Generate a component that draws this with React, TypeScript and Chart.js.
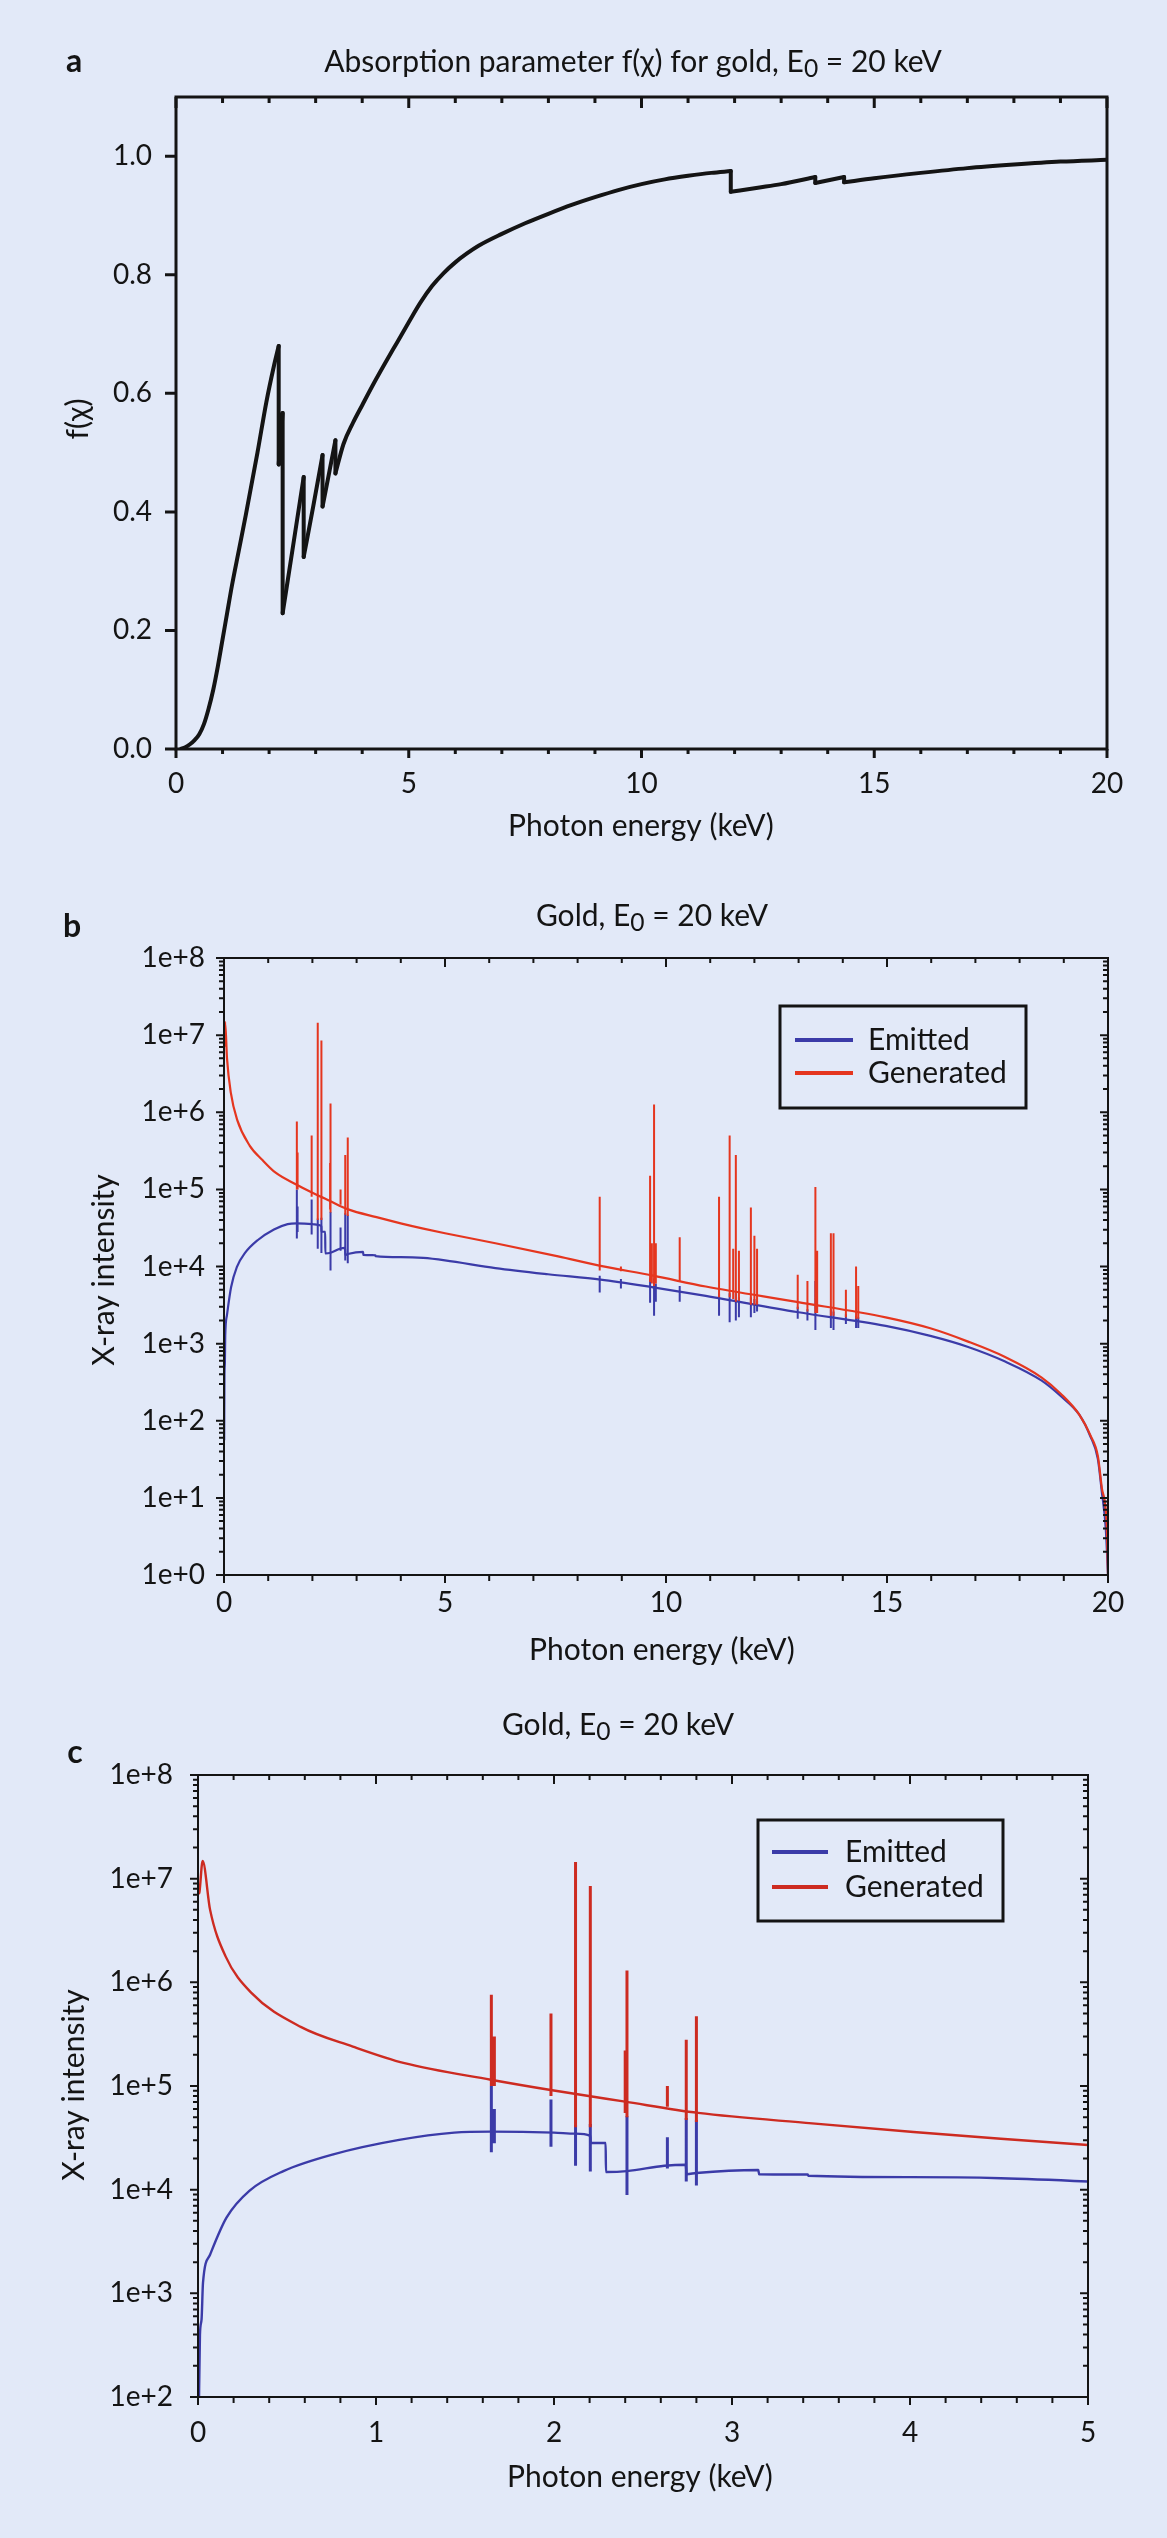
import React, { useEffect, useRef } from "react";
import { Chart, registerables } from "chart.js";

Chart.register(...registerables);

const PAGE_W = 1167;
const PAGE_H = 2538;
const BG = "#e2e9f8";
const INK = "#141414";
const FONT = "Lato, 'Open Sans', 'DejaVu Sans', sans-serif";
const BLUE = "#3b3ba8";
const RED_B = "#e5361f";
const RED_C = "#cd2b21";

// ---------- Panel a: absorption parameter f(chi) ----------
const absEnergy = [0.1, 0.2, 0.3, 0.4, 0.5, 0.6, 0.7, 0.8, 0.9, 1.0, 1.1, 1.2, 1.35, 1.5, 1.75, 1.94, 2.1, 2.206, 2.206, 2.291, 2.291, 2.5, 2.743, 2.743, 2.95, 3.148, 3.148, 3.3, 3.425, 3.425, 3.6, 3.8, 4.0, 4.25, 4.5, 4.75, 5.0, 5.25, 5.5, 5.75, 6.0, 6.25, 6.5, 7.0, 7.5, 8.0, 8.5, 9.0, 9.5, 10.0, 10.5, 11.0, 11.5, 11.918, 11.918, 12.5, 13.0, 13.733, 13.733, 14.353, 14.353, 15, 16, 17, 18, 19, 20];
const absF = [0, 0.003, 0.008, 0.015, 0.025, 0.042, 0.068, 0.1, 0.14, 0.185, 0.23, 0.275, 0.335, 0.395, 0.5, 0.585, 0.645, 0.68, 0.48, 0.567, 0.229, 0.335, 0.459, 0.324, 0.41, 0.496, 0.409, 0.47, 0.521, 0.465, 0.515, 0.55, 0.58, 0.617, 0.652, 0.686, 0.72, 0.753, 0.781, 0.803, 0.821, 0.836, 0.849, 0.869, 0.887, 0.903, 0.918, 0.931, 0.943, 0.953, 0.961, 0.967, 0.972, 0.975, 0.94, 0.947, 0.953, 0.965, 0.955, 0.965, 0.956, 0.963, 0.972, 0.98, 0.986, 0.991, 0.994];
const absXTicks = [0, 5, 10, 15, 20];
const absYTicks = [0, 0.2, 0.4, 0.6, 0.8, 1.0];

// ---------- Panels b, c: gold spectrum, E0 = 20 keV ----------
const emittedEnergy = [0.004, 0.011, 0.02, 0.028, 0.067, 0.16, 0.29, 0.48, 0.76, 1.13, 1.44, 1.645, 2.0, 2.12, 2.204, 2.206, 2.29, 2.292, 2.41, 2.62, 2.74, 2.745, 2.8, 3.148, 3.152, 3.425, 3.43, 4.0, 4.51, 5.0, 6.14, 7.33, 8.52, 9.71, 10.9, 12.96, 14.97, 15.98, 16.82, 17.66, 18.5, 18.93, 19.35, 19.6, 19.77, 19.86, 19.95, 20];
const emittedIntensity = [56, 400, 560, 1260, 2340, 5370, 9800, 15100, 21900, 30200, 35500, 36300, 35500, 34700, 33100, 28200, 28200, 14800, 15100, 17000, 17400, 14100, 14500, 15500, 14100, 14000, 13600, 13200, 12900, 12000, 9550, 7940, 6760, 5370, 4170, 2570, 1700, 1260, 912, 590, 331, 209, 120, 63, 32, 12, 4, 1];

const generatedEnergy = [0.003, 0.008, 0.026, 0.068, 0.155, 0.3, 0.58, 0.87, 1.16, 1.645, 1.99, 2.39, 2.81, 3.45, 4.02, 4.51, 5.0, 6.14, 7.56, 8.52, 9.71, 10.9, 12.96, 14.97, 15.98, 16.82, 17.66, 18.5, 18.93, 19.35, 19.6, 19.77, 19.86, 19.97, 20];
const generatedIntensity = [7.1e6, 7.4e6, 1.48e7, 5.0e6, 1.78e6, 7.9e5, 3.7e5, 2.4e5, 1.66e5, 1.15e5, 9.1e4, 7.1e4, 5.5e4, 4.36e4, 3.6e4, 3.1e4, 2.7e4, 2.0e4, 1.35e4, 1.02e4, 7.6e3, 5.5e3, 3.47e3, 2.19e3, 1.58e3, 1.07e3, 676, 363, 224, 120, 65, 35, 13.5, 4.5, 1];

// characteristic lines (keV) and their extents
const lineEnergy = [1.648, 1.665, 1.983, 2.121, 2.204, 2.4, 2.41, 2.637, 2.743, 2.8, 8.5, 8.98, 9.64, 9.68, 9.73, 9.77, 10.31, 11.2, 11.44, 11.52, 11.58, 11.65, 11.92, 12.0, 12.06, 12.98, 13.2, 13.38, 13.42, 13.73, 13.79, 14.07, 14.3, 14.35];
const generatedPeak = [7.6e5, 3.0e5, 5.0e5, 1.45e7, 8.5e6, 2.2e5, 1.3e6, 1.0e5, 2.8e5, 4.7e5, 8e4, 1.0e4, 1.5e5, 2.0e4, 1.26e6, 2.0e4, 2.4e4, 8e4, 5e5, 1.7e4, 2.8e5, 1.6e4, 5.8e4, 2.5e4, 1.7e4, 7.8e3, 6.5e3, 1.07e5, 1.6e4, 2.7e4, 2.7e4, 5e3, 1.0e4, 5.6e3];
const generatedBase = [1.0e5, 1.0e5, 8e4, 4e4, 4e4, 5.5e4, 5e4, 6.3e4, 4.7e4, 4.5e4, 8.9e3, 8.7e3, 6.3e3, 6e3, 5.6e3, 6e3, 6.3e3, 4e3, 4e3, 3.8e3, 3.5e3, 3.6e3, 3.2e3, 3.2e3, 3.2e3, 2.8e3, 2.6e3, 2.5e3, 2.5e3, 2.3e3, 2.3e3, 2.2e3, 2.1e3, 2.1e3];
const emittedPeak = [1.0e5, 6e4, 7.4e4, 4.2e4, 4.3e4, null, 5.1e4, 3.2e4, 4.9e4, 4.7e4, 7.6e3, 6.9e3, 7e3, null, 7e3, 6e3, 5.6e3, 4.5e3, 4.5e3, null, 4.5e3, 4e3, 4e3, 3.8e3, 3.6e3, 3e3, 2.8e3, 6.5e3, null, 2.8e3, 2.6e3, 2.4e3, 2.3e3, 2.2e3];
const emittedDip = [2.3e4, 2.8e4, 2.6e4, 1.7e4, 1.5e4, null, 8.9e3, 1.6e4, 1.2e4, 1.1e4, 4.6e3, 5.2e3, 3.4e3, null, 2.3e3, 3.5e3, 3.5e3, 2.3e3, 1.9e3, null, 2.0e3, 2.2e3, 2.2e3, 2.5e3, 2.6e3, 2.1e3, 2.0e3, 1.5e3, null, 1.6e3, 1.5e3, 1.8e3, 1.6e3, 1.6e3];

const specBXTicks = [0, 5, 10, 15, 20];
const specBYTicks = [1, 1e1, 1e2, 1e3, 1e4, 1e5, 1e6, 1e7, 1e8];
const specCXTicks = [0, 1, 2, 3, 4, 5];
const specCYTicks = [1e2, 1e3, 1e4, 1e5, 1e6, 1e7, 1e8];

const legendLabels = ["Emitted", "Generated"];

// ---------- helpers ----------
type Area = { left: number; right: number; top: number; bottom: number };
type Tick = { v: number; major: boolean };
type Pt = { x: number; y: number | null };

function linearTicks(min: number, max: number, step: number, majorEvery: number): Tick[] {
  const out: Tick[] = [];
  const n = Math.round((max - min) / step);
  for (let i = 0; i <= n; i++) {
    const v = min + i * step;
    const r = v / majorEvery;
    out.push({ v, major: Math.abs(r - Math.round(r)) < 1e-6 });
  }
  return out;
}
function logTicks(minExp: number, maxExp: number): Tick[] {
  const out: Tick[] = [];
  for (let e = minExp; e <= maxExp; e++) {
    for (let k = 1; k <= 9; k++) {
      if (e === maxExp && k > 1) break;
      out.push({ v: k * Math.pow(10, e), major: k === 1 });
    }
  }
  return out;
}
function setFont(ctx: CanvasRenderingContext2D, size: number, weight = "normal") {
  ctx.font = `${weight} ${size}px ${FONT}`;
}
function drawText(ctx: CanvasRenderingContext2D, text: string, x: number, y: number, size: number, weight = "normal", align: CanvasTextAlign = "center") {
  setFont(ctx, size, weight);
  ctx.fillStyle = INK;
  ctx.textAlign = align;
  ctx.textBaseline = "middle";
  ctx.fillText(text, x, y);
}
function drawSubTitle(ctx: CanvasRenderingContext2D, pre: string, sub: string, post: string, cx: number, cy: number, size: number) {
  const subSize = size * 0.82;
  setFont(ctx, size);
  const w1 = ctx.measureText(pre).width;
  const w3 = ctx.measureText(post).width;
  setFont(ctx, subSize);
  const w2 = ctx.measureText(sub).width;
  let x = cx - (w1 + w2 + w3) / 2;
  drawText(ctx, pre, x, cy, size, "normal", "left");
  x += w1;
  drawText(ctx, sub, x, cy + size * 0.22, subSize, "normal", "left");
  x += w2;
  drawText(ctx, post, x, cy, size, "normal", "left");
}
function drawRotated(ctx: CanvasRenderingContext2D, text: string, x: number, y: number, size: number) {
  ctx.save();
  ctx.translate(x, y);
  ctx.rotate(-Math.PI / 2);
  drawText(ctx, text, 0, 0, size);
  ctx.restore();
}
function drawLegend(ctx: CanvasRenderingContext2D, left: number, top: number, w: number, h: number, rowY: number[], lineX: [number, number], textX: number, colors: string[]) {
  ctx.save();
  ctx.strokeStyle = INK;
  ctx.lineWidth = 3;
  ctx.strokeRect(left, top, w, h);
  legendLabels.forEach((lab, i) => {
    ctx.strokeStyle = colors[i];
    ctx.lineWidth = 4;
    ctx.beginPath();
    ctx.moveTo(left + lineX[0], top + rowY[i]);
    ctx.lineTo(left + lineX[1], top + rowY[i]);
    ctx.stroke();
    drawText(ctx, lab, left + textX, top + rowY[i], 30, "normal", "left");
  });
  ctx.restore();
}

interface Decor {
  frameWidth: number;
  tickWidth: number;
  xTicks: Tick[];
  yTicks: Tick[];
  bottomLen: [number, number];
  topLen: [number, number] | null;
  leftLen: [number, number];
  rightLen: [number, number] | null;
  draw: (ctx: CanvasRenderingContext2D, a: Area) => void;
}
function decorPlugin(d: Decor) {
  return {
    id: "decor",
    afterDraw(chart: any) {
      const ctx: CanvasRenderingContext2D = chart.ctx;
      const a = chart.chartArea;
      const xs = chart.scales.x;
      const ys = chart.scales.y;
      ctx.save();
      ctx.strokeStyle = INK;
      ctx.lineWidth = d.tickWidth;
      ctx.beginPath();
      for (const t of d.xTicks) {
        const px = xs.getPixelForValue(t.v);
        const lb = t.major ? d.bottomLen[1] : d.bottomLen[0];
        ctx.moveTo(px, a.bottom);
        ctx.lineTo(px, a.bottom + lb);
        if (d.topLen) {
          const lt = t.major ? d.topLen[1] : d.topLen[0];
          ctx.moveTo(px, a.top);
          ctx.lineTo(px, a.top + lt);
        }
      }
      for (const t of d.yTicks) {
        const py = ys.getPixelForValue(t.v);
        const ll = t.major ? d.leftLen[1] : d.leftLen[0];
        ctx.moveTo(a.left - ll, py);
        ctx.lineTo(a.left, py);
        if (d.rightLen) {
          const lr = t.major ? d.rightLen[1] : d.rightLen[0];
          ctx.moveTo(a.right - lr, py);
          ctx.lineTo(a.right, py);
        }
      }
      ctx.stroke();
      ctx.lineWidth = d.frameWidth;
      ctx.strokeRect(a.left, a.top, a.right - a.left, a.bottom - a.top);
      ctx.restore();
      d.draw(ctx, a);
    },
  };
}

function axis(type: string, min: number, max: number, tickValues: number[], fmt: (v: number) => string, padding: number) {
  return {
    type,
    min,
    max,
    grid: { display: false, drawTicks: false },
    border: { display: false },
    afterBuildTicks: (s: any) => {
      s.ticks = tickValues.map((v) => ({ value: v }));
    },
    ticks: {
      font: { family: FONT, size: 28 },
      color: INK,
      padding,
      autoSkip: false,
      maxRotation: 0,
      minRotation: 0,
      callback: (v: any) => fmt(Number(v)),
    },
  };
}

function baseOptions(area: Area, H: number, xScale: any, yScale: any) {
  return {
    responsive: false,
    maintainAspectRatio: false,
    animation: false,
    devicePixelRatio: 1,
    events: [],
    layout: { padding: { left: 0, top: area.top, right: PAGE_W - area.right, bottom: 0 } },
    plugins: { legend: { display: false }, tooltip: { enabled: false }, title: { display: false } },
    scales: {
      x: { ...xScale, afterFit: (s: any) => { s.height = H - area.bottom; } },
      y: { ...yScale, afterFit: (s: any) => { s.width = area.left; } },
    },
  };
}

const pts = (xs: number[], ys: number[]): Pt[] => xs.map((x, i) => ({ x, y: ys[i] }));
function spikes(xs: number[], lo: (number | null)[], hi: (number | null)[]): Pt[] {
  const out: Pt[] = [];
  xs.forEach((x, i) => {
    if (lo[i] == null || hi[i] == null) return;
    out.push({ x, y: lo[i] }, { x, y: hi[i] }, { x, y: null });
  });
  return out;
}
// split a curve at its vertical drops (repeated x): smooth runs + straight drops
function splitAtEdges(xs: number[], ys: number[]) {
  const runs: Pt[][] = [];
  const drops: Pt[] = [];
  let cur: Pt[] = [];
  xs.forEach((x, i) => {
    if (i > 0 && x === xs[i - 1]) {
      runs.push(cur);
      drops.push({ x, y: ys[i - 1] }, { x, y: ys[i] }, { x, y: null });
      cur = [];
    }
    cur.push({ x, y: ys[i] });
  });
  runs.push(cur);
  return { runs, drops };
}
const logLabel = (v: number) => "1e+" + Math.round(Math.log10(v));

// ---------- chart factories ----------
function makeAbsChart(canvas: HTMLCanvasElement) {
  const H = 870;
  const area = { left: 176, right: 1107, top: 97, bottom: 749 };
  const { runs, drops } = splitAtEdges(absEnergy, absF);
  const common = { showLine: true, borderColor: INK, borderWidth: 4, pointRadius: 0, borderCapStyle: "round", borderJoinStyle: "round" };
  const datasets: any[] = runs.map((r, i) => ({ ...common, label: "f(χ) " + i, data: r, cubicInterpolationMode: "monotone" }));
  datasets.push({ ...common, label: "edges", data: drops, tension: 0, spanGaps: false });
  return new Chart(canvas, {
    type: "scatter",
    data: { datasets },
    options: baseOptions(
      area,
      H,
      axis("linear", 0, 20, absXTicks, (v) => String(v), 18),
      axis("linear", 0, 1.1, absYTicks, (v) => v.toFixed(1), 24)
    ) as any,
    plugins: [
      decorPlugin({
        frameWidth: 3,
        tickWidth: 3,
        xTicks: linearTicks(0, 20, 1, 5),
        yTicks: absYTicks.map((v) => ({ v, major: true })),
        bottomLen: [5, 9],
        topLen: [6, 11],
        leftLen: [11, 11],
        rightLen: null,
        draw: (ctx) => {
          drawText(ctx, "a", 74, 62, 32, "bold");
          drawSubTitle(ctx, "Absorption parameter f(χ) for gold, E", "0", " = 20 keV", 633, 62, 30);
          drawText(ctx, "Photon energy (keV)", 641, 826, 30);
          drawRotated(ctx, "f(χ)", 78, 419, 30);
        },
      }),
    ] as any,
  });
}

function spectrumDatasets(red: string, lw: number, spikeW: number) {
  const common = { showLine: true, pointRadius: 0, spanGaps: false };
  return [
    { ...common, label: "Emitted", data: pts(emittedEnergy, emittedIntensity), borderColor: BLUE, borderWidth: lw, order: 2, cubicInterpolationMode: "monotone" },
    { ...common, label: "Emitted lines", data: spikes(lineEnergy, emittedDip, emittedPeak), borderColor: BLUE, borderWidth: spikeW, order: 2, tension: 0 },
    { ...common, label: "Generated", data: pts(generatedEnergy, generatedIntensity), borderColor: red, borderWidth: lw, order: 1, cubicInterpolationMode: "monotone" },
    { ...common, label: "Generated lines", data: spikes(lineEnergy, generatedBase, generatedPeak), borderColor: red, borderWidth: spikeW, order: 1, tension: 0 },
  ];
}

function makeSpecB(canvas: HTMLCanvasElement) {
  const H = 820;
  const area = { left: 224, right: 1108, top: 88, bottom: 705 };
  return new Chart(canvas, {
    type: "scatter",
    data: { datasets: spectrumDatasets(RED_B, 2.2, 2) as any },
    options: baseOptions(
      area,
      H,
      axis("linear", 0, 20, specBXTicks, (v) => String(v), 11),
      axis("logarithmic", 1, 1e8, specBYTicks, logLabel, 19)
    ) as any,
    plugins: [
      decorPlugin({
        frameWidth: 2,
        tickWidth: 2,
        xTicks: linearTicks(0, 20, 1, 5),
        yTicks: logTicks(0, 8),
        bottomLen: [6, 8],
        topLen: [5, 9],
        leftLen: [5, 8],
        rightLen: [5, 8],
        draw: (ctx, a) => {
          drawText(ctx, "b", 72, 57, 32, "bold");
          drawSubTitle(ctx, "Gold, E", "0", " = 20 keV", 652, 46, 30);
          drawText(ctx, "Photon energy (keV)", 662, 780, 30);
          drawRotated(ctx, "X-ray intensity", 104, 400, 30);
          drawLegend(ctx, a.right - 82 - 246, a.top + 48, 246, 102, [34, 67], [15, 73], 88, [BLUE, RED_B]);
        },
      }),
    ] as any,
  });
}

function makeSpecC(canvas: HTMLCanvasElement) {
  const H = 848;
  const area = { left: 198, right: 1088, top: 85, bottom: 707 };
  return new Chart(canvas, {
    type: "scatter",
    data: { datasets: spectrumDatasets(RED_C, 2.4, 3) as any },
    options: baseOptions(
      area,
      H,
      axis("linear", 0, 5, specCXTicks, (v) => String(v), 19),
      axis("logarithmic", 1e2, 1e8, specCYTicks, logLabel, 25)
    ) as any,
    plugins: [
      decorPlugin({
        frameWidth: 2,
        tickWidth: 2,
        xTicks: linearTicks(0, 5, 0.2, 1),
        yTicks: logTicks(2, 8),
        bottomLen: [6, 8],
        topLen: [5, 9],
        leftLen: [5, 8],
        rightLen: [5, 8],
        draw: (ctx, a) => {
          drawText(ctx, "c", 75, 63, 32, "bold");
          drawSubTitle(ctx, "Gold, E", "0", " = 20 keV", 618, 35, 30);
          drawText(ctx, "Photon energy (keV)", 640, 787, 30);
          drawRotated(ctx, "X-ray intensity", 74, 395, 30);
          drawLegend(ctx, a.right - 85 - 245, a.top + 45, 245, 101, [32, 67], [14, 70], 87, [BLUE, RED_C]);
        },
      }),
    ] as any,
  });
}

function PanelCanvas({ top, height, make }: { top: number; height: number; make: (c: HTMLCanvasElement) => Chart }) {
  const ref = useRef<HTMLCanvasElement>(null);
  useEffect(() => {
    if (!ref.current) return;
    const chart = make(ref.current);
    return () => chart.destroy();
  }, []);
  return (
    <canvas
      ref={ref}
      width={PAGE_W}
      height={height}
      style={{ position: "absolute", left: 0, top, width: PAGE_W, height, display: "block" }}
    />
  );
}

export default function App() {
  return (
    <div style={{ position: "absolute", left: 0, top: 0, width: PAGE_W, height: PAGE_H, background: BG, overflow: "hidden" }}>
      <PanelCanvas top={0} height={870} make={makeAbsChart} />
      <PanelCanvas top={870} height={820} make={makeSpecB} />
      <PanelCanvas top={1690} height={848} make={makeSpecC} />
    </div>
  );
}
